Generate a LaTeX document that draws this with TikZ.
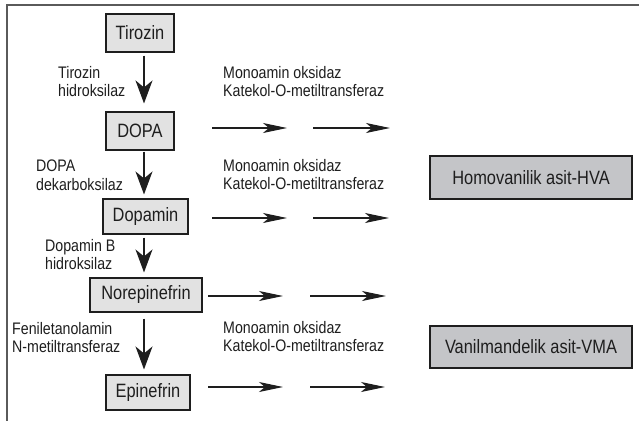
\documentclass[tikz,border=0pt]{standalone}
\usepackage{fontspec}
\setmainfont{Liberation Sans}[FakeStretch=0.85]
\usetikzlibrary{arrows.meta}
\definecolor{boxfill}{HTML}{E2E2E2}
\definecolor{resfill}{HTML}{C4C5C8}
\definecolor{ink}{HTML}{1E1E1E}
\definecolor{framecol}{HTML}{5A5A5A}
\tikzset{
  compound/.style={draw=ink, line width=1.1pt, fill=boxfill, inner sep=0pt, text=ink,
    font=\fontsize{19.3}{21}\selectfont},
  result/.style={compound, fill=resfill},
  enzyme/.style={anchor=base west, inner sep=0pt, align=left, text=ink,
    font=\fontsize{16.7}{18.5}\selectfont},
  vstep/.style={draw=ink, line width=1.1pt, -{Stealth[length=23pt,width=17pt,inset=7pt]}},
  hstep/.style={draw=ink, line width=1.1pt, -{Stealth[length=24pt,width=10pt,inset=6pt]}},
}
\begin{document}
\begin{tikzpicture}[x=1pt,y=-1pt]
\useasboundingbox (0,0) rectangle (639,421);
% frame
\draw[framecol, line width=1.3pt] (639,5) -- (7,5) -- (7,421);
% compounds
\node[compound, minimum width=68pt, minimum height=38pt] (tir) at (140,33) {Tirozin};
\node[compound, minimum width=68pt, minimum height=38pt] (dopa) at (140,131) {DOPA};
\node[compound, minimum width=85pt, minimum height=35pt] (dopamin) at (145.5,216.5) {Dopamin};
\node[compound, minimum width=112pt, minimum height=34pt] (norepi) at (146,295) {Norepinefrin};
\node[compound, minimum width=84pt, minimum height=35pt] (epi) at (148,392.5) {Epinefrin};
\node[result, minimum width=202pt, minimum height=43pt] (hva) at (531,177.5) {Homovanilik asit-HVA};
\node[result, minimum width=202pt, minimum height=42pt] (vma) at (531,347) {Vanilmandelik asit-VMA};
% vertical axis
\coordinate (ax) at (144,0);
\draw[vstep, shorten <=3pt, shorten >=8pt] (tir.south -| ax) -- (dopa.north -| ax);
\draw[vstep, shorten <=1pt, shorten >=4pt] (dopa.south -| ax) -- (dopamin.north -| ax);
\draw[vstep, shorten <=3pt, shorten >=5pt] (dopamin.south -| ax) -- (norepi.north -| ax);
\draw[vstep, shorten <=6pt, shorten >=5pt] (norepi.south -| ax) -- (epi.north -| ax);
% enzyme labels (anchor = baseline of the last line)
\node[enzyme] (e1) at (58,96.5) {Tirozin\\hidroksilaz};
\node[enzyme] (e2) at (36,190) {DOPA\\dekarboksilaz};
\node[enzyme] (e3) at (45,269.5) {Dopamin B\\hidroksilaz};
\node[enzyme] (e4) at (12,352.5) {Feniletanolamin\\N-metiltransferaz};
\node[enzyme] (m1) at (223,96.5) {Monoamin oksidaz\\Katekol-O-metiltransferaz};
\node[enzyme] (m2) at (223,189.5) {Monoamin oksidaz\\Katekol-O-metiltransferaz};
\node[enzyme] (m3) at (223,351.5) {Monoamin oksidaz\\Katekol-O-metiltransferaz};
% horizontal arrows
\coordinate (a1s) at (212,128); \coordinate (a1e) at (287,128);
\coordinate (b1s) at (313,128); \coordinate (b1e) at (390,128);
\coordinate (a2s) at (212,218); \coordinate (a2e) at (287,218);
\coordinate (b2s) at (313,218); \coordinate (b2e) at (389,218);
\coordinate (a3s) at (208,296); \coordinate (a3e) at (283,296);
\coordinate (b3s) at (310,296); \coordinate (b3e) at (386,296);
\coordinate (a4s) at (208,387); \coordinate (a4e) at (283,387);
\coordinate (b4s) at (310,387); \coordinate (b4e) at (385,387);
\foreach \r in {1,2,3,4}{
  \draw[hstep] (a\r s) -- (a\r e);
  \draw[hstep] (b\r s) -- (b\r e);
}
\end{tikzpicture}
\end{document}
